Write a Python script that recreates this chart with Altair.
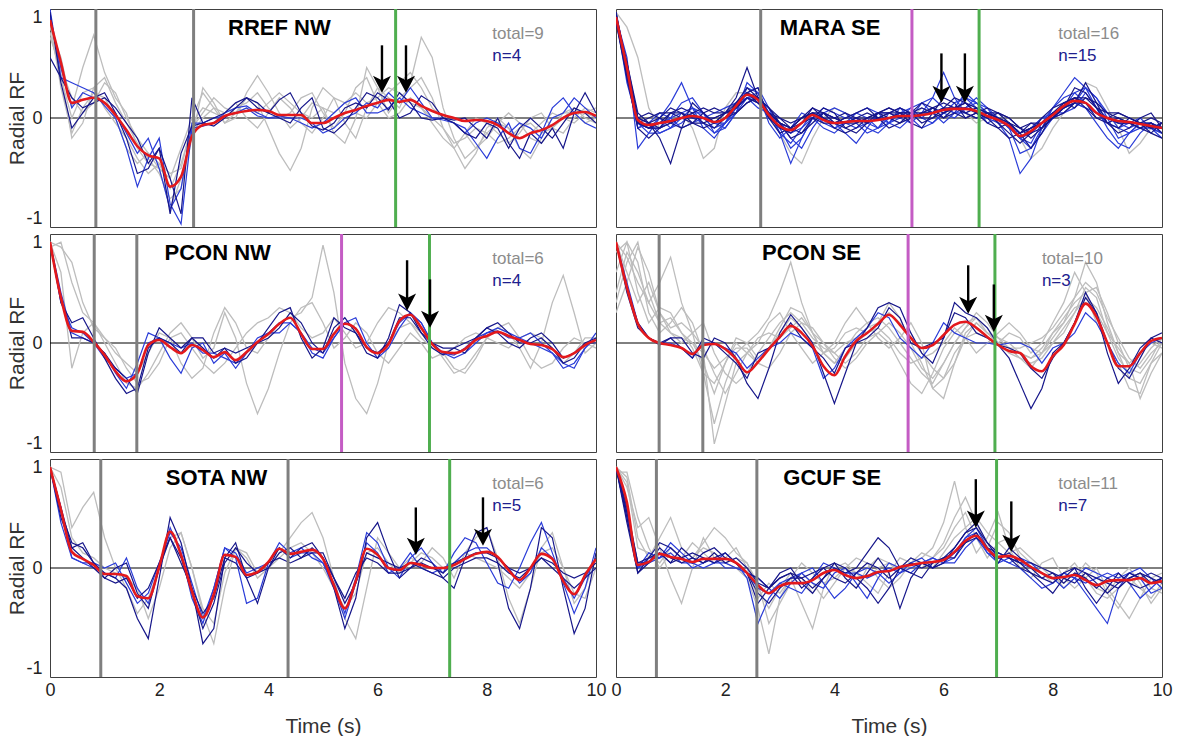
import altair as alt
import pandas as pd

STEP = 0.2  # seconds between samples, t = 0 .. 10

# ---------------- RREF NW ----------------
RREF_NW_RED = [0.97,0.55,0.15,0.18,0.20,0.15,0.03,-0.12,-0.28,-0.37,-0.40,-0.68,-0.58,-0.18,-0.07,-0.05,0.02,0.05,0.07,0.08,0.07,0.03,0.03,0.03,-0.05,-0.05,0.0,0.05,0.08,0.12,0.15,0.18,0.16,0.18,0.12,0.07,0.03,0.0,-0.03,-0.02,-0.03,-0.07,-0.15,-0.20,-0.15,-0.12,-0.07,0.0,0.05,0.06,0.02]
RREF_NW_BLUE = [
    [1.05,0.35,-0.10,0.05,0.20,0.25,0.05,-0.20,-0.55,-0.50,-0.30,-0.95,-0.35,-0.08,-0.05,0.00,0.05,0.15,0.20,0.10,0.05,0.18,0.25,0.05,-0.08,-0.12,-0.05,0.10,0.15,0.10,0.25,0.18,0.00,0.05,0.22,0.15,0.00,-0.02,0.00,-0.10,-0.20,0.00,-0.25,-0.40,-0.15,-0.25,-0.10,-0.30,0.05,0.25,0.05],
    [1.08,0.40,0.35,0.30,0.25,0.12,0.00,-0.30,-0.68,-0.40,-0.20,-0.85,-1.05,-0.10,-0.08,-0.05,0.05,0.10,0.12,0.05,0.00,0.00,0.00,-0.05,-0.10,-0.05,0.05,0.15,0.20,0.05,0.05,0.10,0.20,0.10,0.05,0.00,-0.02,-0.05,-0.10,-0.25,-0.40,-0.20,-0.05,-0.30,-0.35,-0.15,0.10,0.20,0.05,-0.05,-0.10],
    [0.60,0.40,0.20,0.10,0.15,0.20,0.10,-0.05,-0.20,-0.45,-0.30,-0.60,-0.95,0.20,-0.05,-0.08,0.00,0.10,0.20,0.15,0.05,0.00,-0.05,0.10,0.20,-0.10,-0.15,-0.05,0.10,0.25,0.20,0.08,0.25,0.15,0.00,-0.02,0.00,-0.05,-0.15,-0.20,-0.05,-0.10,-0.30,-0.10,0.00,-0.10,-0.20,-0.05,0.10,0.05,-0.05],
    [1.00,0.50,0.10,0.25,0.20,0.15,0.05,-0.15,-0.35,-0.20,-0.50,-0.90,-0.70,-0.05,-0.05,0.00,0.02,0.05,0.10,0.02,0.00,0.02,0.00,0.00,-0.05,-0.15,-0.10,0.00,0.05,0.15,0.10,0.25,0.15,0.30,0.15,0.00,0.00,-0.05,-0.15,-0.05,0.00,-0.05,-0.15,-0.05,-0.10,-0.20,0.00,0.05,0.20,0.10,0.00],
]
RREF_NW_GRAY = [
    [0.90,0.60,0.10,0.50,0.82,0.45,0.20,0.05,-0.30,-0.45,-0.50,-0.60,-0.30,0.00,0.25,0.10,-0.05,0.05,0.20,0.15,-0.10,-0.35,-0.52,-0.30,0.10,0.30,0.20,-0.05,-0.20,0.10,0.30,0.20,0.10,0.35,0.80,0.60,0.10,-0.20,-0.40,-0.30,-0.15,-0.05,-0.10,-0.20,-0.15,-0.05,0.05,0.00,-0.05,0.05,0.10],
    [1.00,0.45,-0.20,-0.05,0.30,0.40,0.15,-0.05,-0.25,-0.40,-0.55,-0.80,-0.70,-0.20,0.30,0.15,-0.05,0.00,0.25,0.42,0.25,0.05,-0.10,0.00,0.15,0.10,-0.15,-0.25,0.00,0.50,0.30,0.05,0.20,0.30,0.40,0.20,-0.10,-0.30,-0.50,-0.35,-0.10,0.00,-0.10,-0.30,-0.40,-0.20,0.00,0.05,0.10,0.00,-0.05],
    [0.85,0.40,0.00,0.25,0.30,0.10,-0.05,-0.20,-0.40,-0.55,-0.45,-0.70,-0.45,-0.10,0.05,0.20,0.10,0.05,0.10,0.05,0.15,0.25,0.15,0.05,0.00,0.10,0.05,0.15,0.25,0.15,0.20,0.30,0.25,0.15,0.10,0.00,-0.10,-0.25,-0.20,-0.10,-0.15,-0.25,-0.20,-0.10,-0.05,-0.15,-0.10,0.00,0.10,0.05,0.00],
    [0.95,0.30,-0.15,0.10,0.25,0.20,0.00,-0.30,-0.45,-0.35,-0.50,-0.90,-0.60,-0.15,0.00,0.10,0.05,0.15,0.00,-0.10,0.05,0.20,0.10,-0.05,-0.15,0.00,0.20,0.15,0.05,0.00,0.15,0.25,0.35,0.45,0.30,0.10,0.00,-0.05,-0.15,-0.30,-0.20,-0.05,0.05,-0.05,-0.20,-0.25,-0.10,0.05,0.05,-0.05,0.00],
    [0.80,0.50,0.20,0.05,0.15,0.35,0.25,0.00,-0.20,-0.35,-0.45,-0.55,-0.50,-0.05,0.10,0.05,0.00,0.10,0.15,0.25,0.10,0.00,0.05,0.20,0.25,0.05,-0.10,0.05,0.30,0.40,0.15,0.00,0.05,0.20,0.10,-0.05,-0.20,-0.30,-0.15,0.00,-0.05,-0.15,-0.25,-0.15,0.00,0.05,-0.10,-0.15,0.00,0.10,0.05],
]

# ---------------- MARA SE ----------------
MARA_SE_RED = [1.00,0.50,-0.02,-0.07,-0.05,-0.03,0.00,0.02,0.00,-0.04,0.00,0.12,0.23,0.18,0.03,-0.08,-0.12,-0.05,0.03,-0.02,-0.05,-0.04,-0.03,-0.03,-0.02,0.00,0.02,0.02,0.03,0.05,0.08,0.09,0.09,0.07,0.02,-0.02,-0.08,-0.18,-0.13,-0.05,0.03,0.12,0.17,0.15,0.05,0.00,-0.03,-0.04,-0.06,-0.08,-0.10]
MARA_SE_BLUE = [
    [1.05,0.40,-0.10,-0.20,-0.10,0.05,0.10,0.05,-0.05,-0.10,0.00,0.15,0.30,0.20,0.00,-0.10,-0.15,-0.05,0.10,0.05,-0.05,-0.10,-0.05,0.00,0.05,0.00,-0.05,0.00,0.05,0.10,0.15,0.10,0.05,0.10,0.05,-0.05,-0.15,-0.25,-0.15,0.00,0.10,0.15,0.20,0.10,0.00,-0.05,0.00,-0.05,-0.10,-0.05,-0.15],
    [1.00,0.60,-0.30,-0.15,0.00,-0.10,-0.05,0.05,0.05,-0.05,-0.10,0.05,0.35,0.25,-0.05,-0.20,-0.10,0.05,0.00,-0.10,-0.15,-0.05,0.05,0.00,-0.10,-0.05,0.05,0.10,0.00,-0.05,0.05,0.15,0.20,0.10,-0.05,0.00,-0.10,-0.35,-0.30,-0.10,0.10,0.20,0.25,0.15,0.05,-0.05,-0.10,-0.05,0.00,-0.10,-0.05],
    [0.95,0.45,0.00,-0.05,-0.20,-0.45,-0.10,0.15,0.05,-0.05,0.05,0.10,0.20,0.15,0.05,-0.05,-0.20,-0.15,0.00,0.10,0.05,-0.10,-0.15,-0.05,0.05,0.10,0.05,-0.05,-0.10,0.05,0.20,0.15,0.00,0.05,0.10,0.05,-0.05,-0.15,-0.10,-0.05,0.00,0.10,0.30,0.25,0.10,-0.05,-0.15,-0.10,0.00,0.05,-0.10],
    [1.00,0.35,-0.05,-0.10,0.00,0.15,0.35,0.10,-0.10,-0.20,-0.05,0.15,0.25,0.30,0.10,-0.15,-0.45,-0.20,0.00,0.05,-0.05,-0.15,-0.25,-0.10,0.05,0.05,0.00,-0.05,0.05,0.20,0.45,0.20,0.05,0.00,0.00,-0.05,-0.20,-0.55,-0.40,-0.10,0.00,0.10,0.15,0.10,-0.05,-0.20,-0.30,-0.15,-0.05,-0.10,-0.20],
    [1.00,0.55,0.05,-0.05,-0.10,-0.05,0.00,0.05,0.10,0.05,0.05,0.20,0.50,0.20,0.00,-0.05,-0.10,0.00,0.05,0.00,-0.05,0.00,0.05,0.10,0.00,-0.10,-0.05,0.05,0.10,0.05,0.00,0.10,0.15,0.05,0.00,0.05,0.00,-0.10,-0.20,-0.10,0.05,0.15,0.10,0.20,0.15,0.05,0.00,-0.05,-0.10,-0.15,-0.05],
    [1.05,0.50,-0.10,-0.05,0.05,0.00,-0.10,-0.05,0.00,0.05,0.10,0.15,0.20,0.10,0.05,-0.15,-0.25,-0.10,0.05,0.00,-0.10,-0.05,0.00,-0.10,-0.15,-0.05,0.10,0.05,0.00,0.10,0.05,0.00,0.10,0.20,0.10,-0.05,-0.05,-0.20,-0.10,0.00,0.00,0.05,0.15,0.30,0.20,0.05,-0.10,-0.15,-0.10,-0.05,-0.15],
    [0.95,0.40,-0.05,-0.10,-0.05,0.05,0.05,-0.05,-0.10,-0.05,0.05,0.10,0.25,0.15,0.05,0.00,-0.10,-0.15,-0.05,0.05,0.00,-0.05,0.00,0.05,0.00,0.05,0.10,0.05,-0.05,0.00,0.10,0.20,0.15,0.05,-0.05,-0.10,-0.05,-0.15,-0.30,-0.15,0.05,0.10,0.20,0.20,0.10,0.05,0.05,0.00,-0.05,-0.05,-0.10],
    [1.00,0.45,-0.05,-0.15,-0.15,-0.10,0.05,0.10,0.05,-0.05,-0.05,0.05,0.30,0.25,0.05,-0.05,-0.20,-0.30,-0.10,0.05,0.10,0.05,-0.05,-0.15,-0.10,0.05,0.10,0.00,-0.10,-0.05,0.05,0.10,0.25,0.15,0.05,0.00,-0.05,-0.20,-0.25,-0.05,0.10,0.25,0.40,0.30,0.10,-0.10,-0.25,-0.30,-0.15,-0.05,-0.10],
    [1.00,0.50,0.00,0.05,0.00,-0.05,-0.10,-0.05,0.05,0.10,0.05,0.05,0.15,0.20,0.10,-0.05,-0.10,0.00,0.10,0.00,-0.10,-0.15,-0.10,0.00,0.05,0.05,0.00,0.05,0.15,0.10,0.00,0.05,0.00,0.05,0.00,-0.10,-0.20,-0.15,-0.05,-0.05,0.00,0.05,0.15,0.35,0.15,-0.05,-0.10,0.00,-0.05,-0.15,-0.20],
    [1.00,0.45,-0.05,-0.10,-0.10,0.00,0.05,0.00,-0.05,-0.15,-0.10,0.05,0.20,0.15,0.05,-0.10,-0.15,-0.05,0.05,-0.05,-0.10,-0.05,0.00,-0.05,-0.10,0.00,0.05,0.00,0.05,0.05,0.10,0.05,0.05,0.10,0.05,0.00,-0.10,-0.15,-0.10,0.00,0.05,0.10,0.15,0.10,0.05,0.00,-0.05,-0.05,-0.10,-0.10,-0.15],
    [1.05,0.50,-0.05,0.00,0.05,0.05,0.00,-0.05,-0.05,0.00,0.05,0.10,0.25,0.30,0.00,-0.15,-0.10,0.00,0.05,0.05,0.00,-0.05,-0.05,0.00,0.05,0.10,0.05,0.00,0.05,0.10,0.05,0.10,0.05,0.00,0.05,0.00,-0.05,-0.10,-0.05,-0.10,0.00,0.15,0.20,0.15,0.00,0.00,0.05,0.00,-0.05,-0.10,-0.05],
    [1.00,0.40,-0.10,-0.05,-0.15,-0.10,0.00,0.10,0.00,-0.10,-0.05,0.10,0.20,0.20,0.10,-0.05,-0.15,-0.10,0.00,0.05,0.00,-0.05,-0.10,-0.05,0.00,-0.05,0.00,0.10,0.15,0.05,-0.05,0.05,0.10,0.15,0.10,0.00,-0.10,-0.20,-0.15,-0.05,0.05,0.05,0.10,0.25,0.10,0.00,-0.05,-0.10,-0.05,-0.05,-0.10],
    [0.95,0.55,0.00,-0.05,0.00,0.10,0.05,0.00,0.00,-0.05,0.00,0.05,0.15,0.20,0.10,0.00,-0.05,0.00,0.05,0.00,0.00,0.05,0.00,-0.05,0.00,0.00,0.05,0.05,0.00,0.00,0.05,0.10,0.15,0.10,0.05,0.05,0.00,-0.10,-0.15,-0.10,0.00,0.10,0.20,0.15,0.05,0.00,0.00,-0.05,-0.05,0.00,-0.05],
    [1.00,0.45,-0.05,-0.10,-0.05,0.00,0.15,0.20,0.05,-0.15,-0.05,0.10,0.20,0.25,0.05,-0.10,-0.30,-0.20,0.00,0.10,0.05,0.00,0.05,0.10,0.05,-0.05,-0.10,0.00,0.15,0.20,0.10,0.05,0.20,0.15,0.05,0.00,-0.10,-0.20,-0.30,-0.15,0.00,0.10,0.25,0.30,0.20,0.00,-0.20,-0.15,-0.05,-0.10,-0.15],
    [1.00,0.50,-0.05,-0.10,-0.10,-0.05,0.00,0.00,0.00,0.00,0.05,0.15,0.25,0.20,0.05,-0.05,-0.10,-0.05,0.00,-0.05,-0.05,0.00,0.00,0.00,0.00,0.05,0.05,0.05,0.05,0.05,0.10,0.10,0.10,0.05,0.05,0.00,-0.05,-0.15,-0.10,-0.05,0.05,0.10,0.15,0.15,0.05,0.00,-0.05,-0.05,-0.05,-0.10,-0.10],
]
MARA_SE_GRAY = [
    [1.05,0.90,0.60,0.10,-0.10,0.00,0.05,-0.10,-0.40,-0.30,0.10,0.25,0.25,0.15,0.00,-0.15,-0.35,-0.45,-0.20,0.00,0.10,0.05,-0.05,-0.05,0.05,0.00,-0.05,0.00,0.10,0.05,0.00,0.10,0.05,-0.05,0.00,0.05,-0.05,-0.20,-0.40,-0.30,-0.10,0.05,0.15,0.35,0.30,0.10,-0.10,-0.35,-0.25,-0.10,-0.15],
]

# ---------------- PCON NW ----------------
PCON_NW_RED = [1.00,0.45,0.12,0.11,0.01,-0.12,-0.28,-0.38,-0.30,-0.02,0.03,-0.04,-0.10,-0.02,-0.07,-0.14,-0.09,-0.17,-0.09,0.01,0.09,0.19,0.25,0.09,-0.06,-0.06,0.09,0.19,0.14,-0.04,-0.10,-0.01,0.22,0.28,0.15,-0.01,-0.09,-0.10,-0.06,0.03,0.07,0.11,0.07,0.03,-0.01,-0.02,-0.06,-0.14,-0.10,-0.02,0.03]
PCON_NW_BLUE = [
    [1.00,0.40,0.20,0.25,0.05,-0.15,-0.35,-0.50,-0.45,-0.05,0.05,0.00,-0.10,0.05,-0.05,-0.15,-0.05,-0.20,-0.15,0.00,0.15,0.30,0.35,0.05,-0.15,-0.05,0.25,0.15,0.10,-0.10,-0.15,0.05,0.38,0.30,0.10,-0.05,-0.12,-0.05,0.00,0.05,0.15,0.20,0.10,0.00,0.00,0.05,-0.05,-0.20,-0.15,0.00,0.05],
    [1.00,0.50,0.10,0.05,0.00,-0.10,-0.30,-0.45,-0.20,0.10,0.05,-0.15,-0.30,-0.05,0.00,-0.20,-0.10,-0.25,-0.10,0.05,0.10,0.10,0.20,0.10,-0.10,-0.15,0.05,0.20,0.25,0.00,-0.15,-0.05,0.15,0.30,0.20,0.00,-0.10,-0.15,-0.10,0.00,0.10,0.12,0.05,0.05,0.10,0.00,-0.10,-0.25,-0.20,-0.05,0.10],
    [1.00,0.45,0.05,0.05,0.00,-0.10,-0.25,-0.35,-0.50,-0.10,0.15,0.05,-0.05,0.05,0.05,-0.10,-0.05,-0.10,-0.05,0.00,0.05,0.15,0.30,0.20,0.00,-0.10,0.15,0.25,0.10,-0.05,-0.10,0.00,0.25,0.25,0.10,0.00,-0.05,-0.05,-0.10,0.05,0.15,0.10,0.00,-0.05,0.05,0.10,0.00,-0.15,-0.10,0.00,0.00],
    [1.00,0.40,0.15,0.10,0.00,-0.15,-0.25,-0.35,-0.30,0.00,0.05,0.00,-0.05,0.00,-0.10,-0.10,-0.15,-0.20,-0.10,0.00,0.10,0.20,0.20,0.10,-0.05,-0.10,0.05,0.20,0.15,-0.05,-0.10,0.00,0.20,0.30,0.20,0.00,-0.10,-0.12,-0.05,0.05,0.10,0.15,0.10,0.05,0.00,-0.05,-0.10,-0.20,-0.25,-0.05,0.05],
]
PCON_NW_GRAY = [
    [0.95,1.00,0.60,0.30,0.20,0.00,-0.20,-0.40,-0.45,-0.30,-0.10,0.10,0.20,0.05,-0.15,-0.05,0.30,0.05,-0.40,-0.70,-0.45,-0.10,0.20,0.35,0.40,0.20,-0.05,0.05,0.20,0.10,-0.10,-0.20,-0.05,0.10,0.00,-0.15,-0.10,-0.05,0.05,0.10,0.05,0.00,-0.05,0.05,0.10,0.05,-0.05,-0.20,-0.10,0.05,0.05],
    [1.00,0.70,-0.25,0.10,0.20,0.05,-0.10,-0.20,-0.30,-0.10,0.10,0.05,-0.20,-0.35,-0.25,0.10,0.35,0.20,-0.05,-0.10,0.05,0.20,0.25,0.30,0.45,0.97,0.50,-0.20,-0.55,-0.70,-0.40,0.00,0.15,0.20,0.05,-0.05,-0.10,-0.25,-0.30,-0.15,0.05,0.15,0.10,-0.05,-0.25,0.00,0.40,0.67,0.30,-0.10,0.00],
    [1.00,0.95,0.80,0.40,0.15,0.05,-0.05,-0.25,-0.40,-0.35,-0.20,0.05,0.10,-0.05,-0.20,-0.30,-0.20,-0.05,0.10,0.20,0.25,0.35,0.30,0.15,0.05,0.10,0.25,0.10,-0.05,0.00,0.20,0.35,0.30,0.20,0.10,0.00,-0.15,-0.30,-0.25,-0.10,0.05,0.15,0.20,0.05,-0.15,-0.25,-0.20,-0.05,0.05,0.00,-0.05],
]

# ---------------- PCON SE ----------------
PCON_SE_RED = [1.00,0.55,0.19,0.05,0.00,-0.02,-0.05,-0.11,-0.02,-0.01,-0.06,-0.16,-0.29,-0.19,-0.06,0.06,0.17,0.10,-0.03,-0.23,-0.32,-0.13,0.02,0.10,0.19,0.28,0.18,0.05,-0.05,-0.02,0.08,0.18,0.21,0.15,0.06,-0.02,-0.08,-0.10,-0.23,-0.28,-0.13,-0.02,0.19,0.39,0.26,0.00,-0.23,-0.23,-0.10,0.02,0.05]
PCON_SE_BLUE = [
    [1.00,0.50,0.15,0.05,0.00,0.05,0.05,-0.10,-0.15,0.05,0.00,-0.15,-0.40,-0.55,-0.25,0.10,0.28,0.15,0.00,-0.30,-0.60,-0.30,0.00,0.15,0.35,0.40,0.35,0.10,-0.10,-0.20,0.05,0.40,0.30,0.25,0.15,-0.02,-0.15,-0.40,-0.65,-0.45,-0.10,0.00,0.20,0.50,0.30,-0.10,-0.40,-0.25,-0.05,0.05,0.10],
    [1.00,0.60,0.20,0.05,0.00,0.00,-0.05,-0.15,0.00,0.00,-0.05,-0.10,-0.25,-0.15,-0.05,0.00,0.10,0.05,-0.05,-0.35,-0.25,-0.05,0.05,0.15,0.30,0.25,0.05,-0.05,-0.15,0.00,0.20,0.10,0.05,0.00,0.00,-0.02,0.00,0.00,-0.05,-0.20,-0.05,0.00,0.10,0.30,0.20,0.00,-0.20,-0.30,-0.10,0.00,0.05],
    [1.00,0.55,0.20,0.05,-0.02,0.05,-0.05,-0.15,0.05,0.00,-0.10,-0.20,-0.35,-0.10,-0.05,0.05,0.20,0.05,-0.05,-0.15,-0.30,-0.05,0.00,0.05,0.15,0.35,0.25,0.00,-0.05,0.00,0.05,0.30,0.25,0.10,0.05,-0.02,-0.05,-0.10,-0.25,-0.35,-0.15,0.00,0.20,0.45,0.30,0.00,-0.25,-0.35,-0.15,0.05,0.00],
]
PCON_SE_GRAY = [
    [0.50,0.90,0.70,0.40,0.60,0.85,0.40,0.10,-0.30,-0.80,-0.40,-0.10,0.00,0.10,0.25,0.50,0.80,0.40,0.10,-0.10,-0.20,-0.05,0.10,0.20,0.25,0.15,0.00,-0.15,-0.30,-0.40,-0.20,0.00,0.15,0.25,0.15,0.00,-0.10,-0.15,-0.20,-0.15,0.00,0.10,0.30,0.55,0.45,0.10,-0.15,-0.30,-0.20,-0.05,0.05],
    [0.90,1.00,0.80,0.30,0.10,0.20,0.35,0.20,-0.10,-1.00,-0.60,-0.20,-0.10,0.00,0.20,0.30,0.10,-0.05,-0.20,-0.10,0.00,0.20,0.35,0.20,0.05,-0.05,0.05,0.20,0.00,-0.45,-0.55,-0.20,0.10,0.20,0.10,0.00,0.10,0.05,-0.10,0.00,0.20,0.40,0.70,0.50,0.20,0.00,-0.20,-0.45,-0.50,-0.20,0.00],
    [0.30,0.60,0.95,0.70,0.30,0.10,0.00,0.10,0.20,-0.10,-0.30,-0.40,-0.30,-0.10,0.05,0.20,0.30,0.20,0.05,-0.05,-0.10,0.00,0.05,0.15,0.20,0.30,0.20,0.05,-0.10,-0.25,-0.35,-0.20,0.05,0.20,0.10,0.05,0.00,-0.10,-0.15,-0.10,0.05,0.20,0.45,0.80,0.60,0.20,-0.10,-0.20,-0.10,0.00,-0.05],
    [1.00,0.70,0.40,0.60,0.30,0.15,0.20,0.10,-0.05,-0.30,-0.50,-0.30,-0.10,0.05,0.10,0.05,0.15,0.25,0.10,-0.10,-0.20,-0.15,0.00,0.10,0.15,0.05,-0.10,-0.20,-0.15,-0.10,0.00,0.15,0.05,-0.10,0.00,0.10,0.20,0.10,-0.05,-0.10,0.00,0.15,0.30,0.45,0.35,0.15,-0.10,-0.35,-0.40,-0.20,-0.10],
    [0.70,1.00,0.50,0.20,0.35,0.30,0.10,0.00,-0.20,-0.50,-0.20,0.05,0.00,-0.15,-0.05,0.15,0.35,0.30,0.10,0.00,-0.10,-0.20,-0.10,0.05,0.10,0.00,-0.20,-0.40,-0.50,-0.30,-0.05,0.10,0.20,0.25,0.10,0.00,-0.05,-0.15,-0.25,-0.10,0.10,0.25,0.40,0.50,0.55,0.30,0.00,-0.25,-0.30,-0.15,0.05],
    [0.40,0.80,1.00,0.50,0.20,0.25,0.10,-0.05,-0.30,-0.40,-0.20,0.00,-0.10,-0.20,-0.05,0.10,0.25,0.15,0.00,-0.10,-0.05,0.10,0.15,0.10,0.20,0.40,0.25,0.00,-0.20,-0.45,-0.35,-0.10,0.05,0.10,0.05,0.00,-0.05,-0.05,0.00,0.05,0.15,0.30,0.45,0.60,0.50,0.25,0.05,-0.15,-0.25,-0.10,0.00],
    [1.00,0.85,0.60,0.40,0.20,0.10,0.05,0.00,-0.10,-0.25,-0.15,-0.05,-0.05,-0.20,-0.25,-0.10,0.10,0.20,0.15,0.00,-0.15,-0.25,-0.15,0.00,0.10,0.20,0.10,-0.05,-0.25,-0.35,-0.20,0.00,0.15,0.30,0.20,0.05,-0.05,-0.10,-0.15,-0.05,0.10,0.20,0.35,0.40,0.30,0.10,-0.05,-0.20,-0.55,-0.30,-0.10],
]

# ---------------- SOTA NW ----------------
SOTA_NW_RED = [1.00,0.58,0.16,0.09,0.03,-0.06,-0.06,-0.08,-0.28,-0.30,0.01,0.36,0.13,-0.23,-0.49,-0.26,0.13,0.11,-0.07,-0.04,0.06,0.19,0.14,0.16,0.18,0.09,-0.17,-0.40,-0.13,0.19,0.13,0.00,-0.02,0.05,0.03,0.00,0.00,0.03,0.09,0.14,0.16,0.11,-0.02,-0.12,0.00,0.14,0.09,-0.13,-0.26,-0.07,0.09]
SOTA_NW_BLUE = [
    [1.00,0.50,0.20,0.25,0.05,-0.05,-0.10,-0.20,-0.50,-0.70,-0.10,0.50,0.25,-0.20,-0.75,-0.60,0.10,0.25,-0.10,-0.35,0.00,0.20,0.10,0.20,0.25,0.10,-0.20,-0.60,-0.30,0.30,0.45,0.15,-0.10,0.00,0.10,0.05,-0.10,-0.20,0.10,0.35,0.40,0.05,-0.40,-0.60,-0.20,0.40,0.30,-0.20,-0.65,-0.40,0.15],
    [1.00,0.60,0.10,0.05,0.00,-0.05,-0.10,0.10,-0.20,-0.35,0.00,0.40,0.15,-0.30,-0.55,-0.20,0.20,0.15,-0.05,0.00,0.05,0.20,0.10,0.15,0.15,0.05,-0.20,-0.50,-0.15,0.25,0.15,-0.05,0.00,0.15,0.00,-0.05,0.00,0.05,0.15,0.20,0.20,0.10,0.00,-0.15,-0.05,0.20,0.10,-0.10,-0.30,-0.10,0.10],
    [1.00,0.55,0.25,0.20,0.05,-0.10,-0.15,-0.10,-0.30,-0.20,0.05,0.30,0.05,-0.20,-0.45,-0.30,0.10,0.05,-0.10,-0.05,0.05,0.10,0.05,0.10,0.20,0.10,-0.10,-0.30,-0.05,0.10,0.05,-0.05,-0.05,0.00,0.05,0.00,-0.05,0.05,0.10,0.15,0.15,0.10,0.00,-0.05,0.00,0.10,0.05,-0.05,-0.10,-0.05,0.05],
    [1.00,0.45,0.10,0.05,0.05,0.00,0.05,-0.15,-0.35,-0.25,0.05,0.35,0.20,-0.15,-0.50,-0.20,0.20,0.10,-0.35,-0.30,0.05,0.25,0.15,0.20,0.10,0.05,-0.15,-0.45,-0.10,0.35,0.25,0.00,-0.10,0.10,0.20,0.05,-0.05,0.15,0.30,0.25,0.05,-0.15,-0.20,0.00,0.25,0.45,0.15,-0.15,-0.45,-0.20,0.20],
    [1.00,0.60,0.20,0.10,0.00,-0.10,0.00,0.05,-0.25,-0.40,0.00,0.30,0.10,-0.25,-0.60,-0.35,0.05,0.20,0.05,-0.05,0.00,0.15,0.20,0.10,0.15,0.15,-0.10,-0.35,-0.15,0.15,0.10,0.05,0.00,0.05,0.00,-0.05,-0.10,0.00,0.05,0.10,0.10,0.05,-0.05,-0.10,0.00,0.10,0.00,-0.10,-0.20,-0.10,0.00],
]
SOTA_NW_GRAY = [
    [1.00,0.95,0.40,0.60,0.75,0.30,0.00,-0.20,-0.45,-0.30,0.00,0.30,0.35,0.00,-0.45,-0.75,-0.20,0.20,0.10,-0.10,0.00,0.15,0.30,0.45,0.55,0.30,-0.10,-0.50,-0.70,-0.20,0.30,0.15,0.00,0.10,0.05,0.20,0.10,-0.10,0.15,0.30,0.40,0.10,-0.30,-0.55,-0.20,0.20,0.35,0.00,-0.35,-0.20,0.10],
    [1.00,0.80,0.30,0.15,0.10,0.00,-0.05,-0.10,-0.20,-0.50,-0.20,0.20,0.35,0.00,-0.40,-0.55,-0.05,0.20,0.15,-0.05,0.00,0.10,0.20,0.25,0.15,0.00,-0.20,-0.40,-0.25,0.15,0.20,0.05,-0.05,0.05,0.15,0.10,0.00,0.05,0.15,0.10,0.05,0.00,-0.10,-0.20,-0.05,0.15,0.20,0.00,-0.25,-0.30,0.00],
]

# ---------------- GCUF SE ----------------
GCUF_SE_RED = [1.00,0.65,0.03,0.06,0.14,0.11,0.09,0.06,0.09,0.09,0.09,0.05,-0.05,-0.17,-0.25,-0.18,-0.15,-0.15,-0.12,-0.05,-0.02,-0.07,-0.10,-0.08,-0.04,-0.03,0.01,0.03,0.05,0.06,0.08,0.16,0.27,0.32,0.19,0.11,0.12,0.08,0.01,-0.05,-0.10,-0.09,-0.07,-0.12,-0.17,-0.13,-0.12,-0.12,-0.10,-0.15,-0.13]
GCUF_SE_BLUE = [
    [1.00,0.50,-0.05,0.10,0.25,0.20,0.10,0.05,0.15,0.20,0.10,0.05,-0.05,-0.35,-0.20,-0.10,-0.05,-0.20,-0.10,0.00,0.05,-0.10,-0.20,-0.05,0.10,-0.05,-0.40,-0.10,0.05,0.00,0.05,0.20,0.35,0.45,0.25,0.10,0.15,0.05,-0.05,-0.15,-0.25,-0.10,0.00,-0.20,-0.35,-0.20,-0.05,-0.15,-0.20,-0.15,-0.10],
    [1.00,0.60,0.00,0.15,0.10,0.25,0.15,0.05,0.10,0.05,0.15,0.05,-0.10,-0.55,-0.30,-0.15,-0.10,-0.05,-0.15,-0.20,-0.05,0.00,-0.15,-0.30,-0.10,0.05,0.00,-0.05,0.05,0.10,0.05,0.10,0.30,0.40,0.20,0.10,0.05,0.00,-0.10,-0.20,-0.15,-0.05,-0.10,-0.25,-0.40,-0.55,-0.20,-0.05,-0.10,-0.25,-0.20],
    [1.00,0.55,0.05,0.05,0.20,0.10,0.05,0.10,0.05,0.10,0.15,0.05,-0.05,-0.25,-0.35,-0.20,-0.10,-0.10,-0.20,-0.10,0.00,-0.05,0.00,0.15,0.30,0.20,0.00,-0.05,-0.10,0.05,0.10,0.15,0.25,0.30,0.20,0.05,0.20,0.10,0.00,-0.10,-0.05,-0.15,-0.05,-0.10,-0.20,-0.10,-0.15,-0.10,-0.05,-0.10,-0.15],
    [1.00,0.50,0.00,0.10,0.10,0.20,0.10,0.00,0.05,0.10,0.00,0.00,-0.05,-0.10,-0.20,-0.30,-0.15,-0.05,0.00,-0.15,-0.30,-0.20,-0.05,0.00,-0.05,-0.15,-0.05,0.05,0.10,0.00,0.05,0.15,0.30,0.35,0.15,0.05,0.10,0.05,0.00,-0.05,-0.10,-0.20,-0.10,0.00,-0.05,-0.10,-0.05,-0.15,-0.30,-0.20,-0.10],
    [1.00,0.45,-0.05,0.05,0.15,0.05,0.20,0.10,0.05,0.15,0.05,0.10,0.00,-0.15,-0.20,-0.05,0.00,-0.15,-0.25,-0.10,0.05,0.00,-0.10,-0.20,-0.35,-0.20,0.00,0.10,0.05,0.00,0.10,0.20,0.35,0.40,0.25,0.15,0.10,0.00,-0.05,-0.10,-0.15,-0.05,0.00,-0.05,-0.15,-0.25,-0.15,-0.05,-0.10,-0.05,-0.10],
    [1.00,0.55,0.00,0.05,0.10,0.15,0.05,0.05,0.00,0.05,0.05,0.00,-0.05,-0.20,-0.25,-0.15,-0.20,-0.25,-0.10,0.05,0.00,-0.05,-0.05,-0.10,-0.05,0.00,-0.05,0.00,0.05,0.10,0.05,0.05,0.20,0.30,0.15,0.10,0.05,0.10,0.05,-0.05,-0.10,-0.05,-0.10,-0.15,-0.10,-0.05,-0.10,-0.05,0.00,-0.10,-0.20],
    [1.00,0.60,0.05,0.10,0.15,0.05,0.10,0.15,0.10,0.05,0.10,0.05,-0.05,-0.10,-0.20,-0.10,-0.05,-0.10,-0.05,0.00,-0.10,-0.15,-0.05,0.05,0.00,-0.10,0.00,0.05,0.00,0.05,0.10,0.10,0.25,0.35,0.20,0.15,0.10,0.05,0.05,0.00,-0.05,-0.10,-0.15,-0.05,-0.10,-0.15,-0.20,-0.10,-0.05,-0.15,-0.10],
]
GCUF_SE_GRAY = [
    [1.00,0.80,0.40,0.50,0.20,-0.10,-0.35,0.00,0.30,0.10,0.05,0.00,-0.10,-0.40,-0.85,-0.30,-0.10,-0.35,-0.60,-0.20,0.05,-0.10,-0.20,0.00,0.10,0.05,-0.05,0.05,0.10,0.20,0.45,0.86,0.40,0.15,0.30,0.55,0.20,0.00,-0.10,0.05,0.10,-0.10,-0.20,-0.10,0.00,-0.20,-0.35,-0.50,-0.30,-0.10,-0.05],
    [1.00,0.90,0.30,0.10,0.30,0.50,0.20,0.10,0.25,0.40,0.30,0.15,0.05,-0.20,-0.40,-0.20,-0.05,-0.10,-0.25,-0.10,0.00,0.05,-0.05,-0.15,-0.25,-0.05,0.10,0.05,0.00,0.10,0.25,0.50,0.70,0.45,0.20,0.45,0.35,0.10,0.00,-0.05,-0.15,-0.05,0.05,-0.10,-0.20,-0.25,-0.10,0.00,-0.15,-0.35,-0.20],
    [1.00,0.85,0.20,0.15,0.05,0.20,0.10,0.25,0.15,0.05,0.10,0.20,0.00,-0.30,-0.15,-0.25,-0.10,0.05,-0.05,-0.15,-0.10,0.00,0.10,0.05,-0.10,-0.20,-0.10,0.05,0.15,0.10,0.20,0.40,0.55,0.30,0.10,0.25,0.30,0.15,0.05,0.00,-0.05,-0.20,-0.10,0.05,-0.05,-0.25,-0.40,-0.20,-0.05,-0.20,-0.25],
    [0.95,0.95,0.50,0.20,0.00,0.15,0.05,0.10,0.20,0.15,0.05,0.10,0.05,-0.15,-0.55,-0.35,-0.15,-0.05,-0.15,-0.30,-0.15,0.00,-0.05,-0.10,0.00,0.05,0.00,0.10,0.05,0.00,0.15,0.30,0.40,0.50,0.35,0.25,0.15,0.20,0.10,0.00,-0.10,-0.15,-0.05,-0.10,-0.25,-0.30,-0.20,-0.10,-0.20,-0.30,-0.15],
]

# ---------------- annotations ----------------
TITLES = ["RREF NW", "MARA SE", "PCON NW", "PCON SE", "SOTA NW", "GCUF SE"]
TITLE_X = [4.2, 3.92, 3.07, 3.58, 3.05, 3.96]
TOTALS = [9, 16, 6, 10, 6, 11]
NS = [4, 15, 4, 3, 5, 7]
COUNT_X = [8.1, 8.1, 8.1, 7.8, 8.1, 8.1]
GRAY_LINES = [[0.84, 2.63], [2.65], [0.81, 1.59], [0.79, 1.59], [0.93, 4.36], [0.74, 2.58]]
MAGENTA_LINES = [[], [5.42], [5.34], [5.35], [], []]
GREEN_LINES = [[6.33], [6.65], [6.95], [6.94], [7.32], [6.97]]
ARROW_X = [[6.08, 6.52], [5.96, 6.39], [6.54, 6.96], [6.45, 6.92], [6.70, 7.93], [6.59, 7.24]]
ARROW_TOP = [[0.72, 0.72], [0.64, 0.64], [0.82, 0.63], [0.77, 0.58], [0.60, 0.70], [0.88, 0.66]]
ARROW_TIP = [[0.25, 0.25], [0.15, 0.15], [0.32, 0.15], [0.29, 0.11], [0.13, 0.22], [0.40, 0.16]]

REDS = [RREF_NW_RED, MARA_SE_RED, PCON_NW_RED, PCON_SE_RED, SOTA_NW_RED, GCUF_SE_RED]
BLUES = [RREF_NW_BLUE, MARA_SE_BLUE, PCON_NW_BLUE, PCON_SE_BLUE, SOTA_NW_BLUE, GCUF_SE_BLUE]
GRAYS = [RREF_NW_GRAY, MARA_SE_GRAY, PCON_NW_GRAY, PCON_SE_GRAY, SOTA_NW_GRAY, GCUF_SE_GRAY]

FONT = "Liberation Sans"
ARROW_HEAD = "M0,0 L-1,-1.9 L0,-1.4 L1,-1.9 Z"


def traces_df(traces, prefix):
    rows = []
    for k, tr in enumerate(traces):
        for i, v in enumerate(tr):
            rows.append({"t": round(i * STEP, 3), "v": v, "id": f"{prefix}{k}"})
    return pd.DataFrame(rows, columns=["t", "v", "id"])


def panel(i, left, bottom):
    xs = alt.Scale(domain=[0, 10], nice=False, zero=False)
    ys = alt.Scale(domain=[-1.08, 1.08], nice=False, zero=False)
    if bottom:
        xaxis = alt.Axis(values=[0, 2, 4, 6, 8, 10], title="Time (s)", labelFlush=False,
                         ticks=False, domain=False, grid=False, labelFontSize=18,
                         labelPadding=4, titleFontSize=21, titleFontWeight="normal",
                         titlePadding=16, labelColor="#222", titleColor="#333",
                         labelFont=FONT, titleFont=FONT)
    else:
        xaxis = None
    if left:
        yaxis = alt.Axis(values=[-1, 0, 1], title="Radial RF", labelExpr="toString(datum.value)",
                         ticks=False, domain=False, grid=False, labelFontSize=18,
                         labelPadding=8, titleFontSize=21, titleFontWeight="normal",
                         titlePadding=-2, labelColor="#222", titleColor="#333",
                         labelFont=FONT, titleFont=FONT)
    else:
        yaxis = None

    def X(f):
        return alt.X(f"{f}:Q", scale=xs, axis=xaxis)

    def Y(f):
        return alt.Y(f"{f}:Q", scale=ys, axis=yaxis)

    layers = []
    layers.append(alt.Chart(pd.DataFrame({"y": [0.0]})).mark_rule(color="black", strokeWidth=1)
                  .encode(y=Y("y")))

    gdf = traces_df(GRAYS[i], "g")
    layers.append(alt.Chart(gdf).mark_line(color="#bdbdbd", strokeWidth=1.3, clip=True)
                  .encode(x=X("t"), y=Y("v"), detail="id:N"))

    blues = BLUES[i]
    dark = [b for k, b in enumerate(blues) if k % 2 == 0]
    light = [b for k, b in enumerate(blues) if k % 2 == 1]
    if light:
        layers.append(alt.Chart(traces_df(light, "l")).mark_line(color="#2a3cd8", strokeWidth=1.2, clip=True)
                      .encode(x=X("t"), y=Y("v"), detail="id:N"))
    layers.append(alt.Chart(traces_df(dark, "d")).mark_line(color="#16168a", strokeWidth=1.2, clip=True)
                  .encode(x=X("t"), y=Y("v"), detail="id:N"))

    rdf = traces_df([REDS[i]], "r")
    layers.append(alt.Chart(rdf).mark_line(color="#e3191c", strokeWidth=2.6, interpolate="monotone", clip=True)
                  .encode(x=X("t"), y=Y("v")))

    for xs_list, col in ((GRAY_LINES[i], "#7f7f7f"), (MAGENTA_LINES[i], "#c45cc4"), (GREEN_LINES[i], "#4fae4f")):
        if xs_list:
            layers.append(alt.Chart(pd.DataFrame({"x": xs_list})).mark_rule(color=col, strokeWidth=3)
                          .encode(x=X("x")))

    adf = pd.DataFrame({"x": ARROW_X[i], "top": ARROW_TOP[i], "tip": ARROW_TIP[i]})
    adf["base"] = adf["tip"] + 0.1
    layers.append(alt.Chart(adf).mark_rule(color="black", strokeWidth=2.4)
                  .encode(x=X("x"), y=Y("top"), y2="base:Q"))
    layers.append(alt.Chart(adf).mark_point(shape=ARROW_HEAD, size=324, filled=True, color="black",
                                            opacity=1, strokeWidth=0)
                  .encode(x=X("x"), y=Y("tip")))

    tdf = pd.DataFrame({"x": [TITLE_X[i]], "y": [0.89], "label": [TITLES[i]]})
    layers.append(alt.Chart(tdf).mark_text(fontSize=22, fontWeight="bold", align="center",
                                           baseline="middle", color="black", font=FONT)
                  .encode(x=X("x"), y=Y("y"), text="label:N"))
    cdf1 = pd.DataFrame({"x": [COUNT_X[i]], "y": [0.83], "label": [f"total={TOTALS[i]}"]})
    cdf2 = pd.DataFrame({"x": [COUNT_X[i]], "y": [0.61], "label": [f"n={NS[i]}"]})
    layers.append(alt.Chart(cdf1).mark_text(fontSize=17, align="left", baseline="middle",
                                            color="#8c8c8c", font=FONT)
                  .encode(x=X("x"), y=Y("y"), text="label:N"))
    layers.append(alt.Chart(cdf2).mark_text(fontSize=17, align="left", baseline="middle",
                                            color="#20208e", font=FONT)
                  .encode(x=X("x"), y=Y("y"), text="label:N"))

    return alt.layer(*layers).properties(width=546, height=218)


rows = []
for r in range(3):
    rows.append(alt.hconcat(panel(2 * r, True, r == 2), panel(2 * r + 1, False, r == 2),
                            spacing=20, bounds="flush"))

chart = (alt.vconcat(*rows, spacing=3)
         .properties(padding={"left": 6, "top": 7, "right": 0, "bottom": 0}, background="white")
         .configure(font=FONT)
         .configure_view(stroke="#404040", strokeWidth=1))

chart.save("out.html", embed_options={"renderer": "svg", "actions": False})
